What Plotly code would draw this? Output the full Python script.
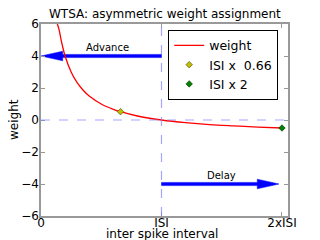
import plotly.graph_objects as go

# Curve (x in units of ISI)
curve_x = [0.136, 0.15, 0.17, 0.2, 0.25, 0.3, 0.35, 0.4, 0.5, 0.6, 0.66, 0.8, 1.0, 1.2, 1.4, 1.6, 1.8, 2.0]
curve_y = [6.0, 5.65, 4.9, 4.0, 3.0, 2.33, 1.86, 1.5, 1.0, 0.67, 0.52, 0.25, 0.0, -0.17, -0.29, -0.37, -0.44, -0.5]

pt1_x, pt1_y = [0.66], [0.52]
pt2_x, pt2_y = [2.0], [-0.5]

x_ticks = [0, 1, 2]
x_ticklabels = ["0", "ISI", "2xISI"]
y_ticks = [-6, -4, -2, 0, 2, 4, 6]

# arrows: (start x, end x, y, label, label x, label y)
arrows = [
    (1.0, 0.0, 4.0, "Advance", 0.55, 4.55),
    (1.0, 1.975, -4.0, "Delay", 1.5, -3.45),
]
head_len = 0.18
shaft_hw = 0.1
head_hw = 0.3

BLUE = "#0000ff"

fig = go.Figure()

for (x0, x1, yy, lab, lx, ly) in arrows:
    d = 1 if x1 > x0 else -1
    xb = x1 - d * head_len
    px = [x0, xb, xb, x1, xb, xb, x0, x0]
    py = [yy - shaft_hw, yy - shaft_hw, yy - head_hw, yy, yy + head_hw, yy + shaft_hw, yy + shaft_hw, yy - shaft_hw]
    fig.add_trace(go.Scatter(x=px, y=py, mode="lines", fill="toself", fillcolor=BLUE,
                             line=dict(color=BLUE, width=0.5), showlegend=False, hoverinfo="skip"))
    fig.add_annotation(x=lx, y=ly, text=lab, showarrow=False, font=dict(size=10, color="black"))

fig.add_trace(go.Scatter(x=curve_x, y=curve_y, mode="lines", line=dict(color="red", width=1.3, shape="spline"),
                         name="weight"))
fig.add_trace(go.Scatter(x=pt1_x, y=pt1_y, mode="markers", name="ISI x  0.66",
                         marker=dict(symbol="diamond", size=5, color="#bfbf00", line=dict(color="#404000", width=0.6))))
fig.add_trace(go.Scatter(x=pt2_x, y=pt2_y, mode="markers", name="ISI x 2",
                         marker=dict(symbol="diamond", size=5, color="#008000", line=dict(color="#003000", width=0.6))))

DASH = "rgba(128,128,255,0.7)"
fig.add_hline(y=0, line=dict(color=DASH, width=1.2, dash="dash"))
fig.add_vline(x=1, line=dict(color=DASH, width=1.2, dash="dash"))

# titles as annotations (pixel placement)
fig.add_annotation(text="WTSA: asymmetric weight assignment", xref="paper", yref="paper", x=0.5, y=1.0,
                   yshift=10, showarrow=False, font=dict(size=12), xanchor="center", yanchor="middle")
fig.add_annotation(text="inter spike interval", xref="paper", yref="paper", x=0.49, y=0, yshift=-18,
                   showarrow=False, font=dict(size=12), xanchor="center", yanchor="middle")
fig.add_annotation(text="weight", xref="paper", yref="paper", x=0, y=0.5, xshift=-27, textangle=-90,
                   showarrow=False, font=dict(size=12), xanchor="center", yanchor="middle")

fig.update_layout(
    width=312, height=232,
    margin=dict(l=33, r=32, t=16, b=24, autoexpand=False),
    paper_bgcolor="white", plot_bgcolor="white",
    font=dict(family="DejaVu Sans", size=12, color="black"),
    legend=dict(x=0.515, y=0.97, xanchor="left", yanchor="top", bordercolor="black", borderwidth=1,
                bgcolor="white", font=dict(size=12.5), itemwidth=30, tracegroupgap=0),
)
fig.update_xaxes(range=[0, 2.05], tickvals=x_ticks, ticktext=x_ticklabels, showgrid=False, zeroline=False,
                 showline=True, linecolor="#999999", linewidth=1.5, mirror="ticks", ticks="inside", ticklen=4,
                 tickcolor="#999999", automargin=False, tickfont=dict(size=12), ticklabelstandoff=-5)
fig.update_yaxes(range=[-6, 6], tickvals=y_ticks, showgrid=False, zeroline=False,
                 showline=True, linecolor="#999999", linewidth=1.5, mirror="ticks", ticks="inside", ticklen=4,
                 tickcolor="#999999", automargin=False, tickfont=dict(size=12), ticklabelstandoff=-2)

fig.write_html("out.html")
